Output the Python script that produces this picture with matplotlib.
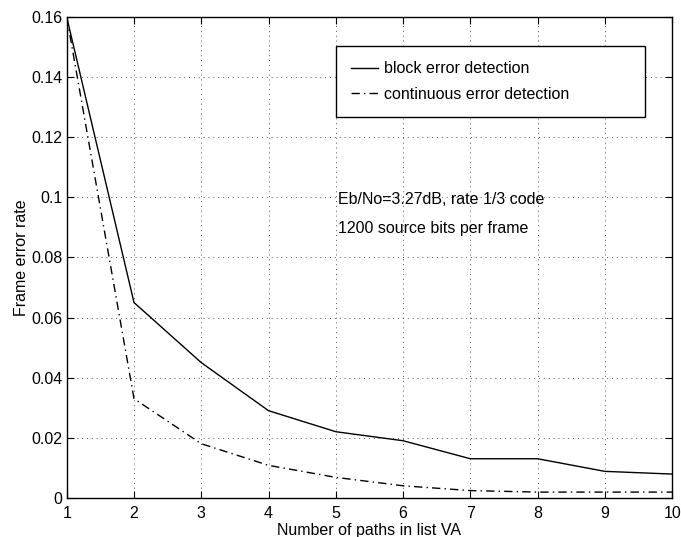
import matplotlib
matplotlib.use("Agg")
import matplotlib.pyplot as plt

paths = [1, 2, 3, 4, 5, 6, 7, 8, 9, 10]
block_fer = [0.16, 0.065, 0.045, 0.029, 0.022, 0.019, 0.013, 0.013, 0.0088, 0.0079]
cont_fer = [0.16, 0.033, 0.018, 0.0108, 0.0068, 0.004, 0.0024, 0.0019, 0.0019, 0.0019]
yticks = [0, 0.02, 0.04, 0.06, 0.08, 0.1, 0.12, 0.14, 0.16]
ytick_labels = ["0", "0.02", "0.04", "0.06", "0.08", "0.1", "0.12", "0.14", "0.16"]

plt.rcParams['font.family'] = ['Liberation Sans', 'DejaVu Sans']

fig = plt.figure(figsize=(6.81, 5.37), dpi=100)
ax = fig.add_axes([0.098, 0.073, 0.889, 0.895])

ax.plot(paths, block_fer, color='black', linestyle='-', linewidth=1.0,
        label='block error detection')
ax.plot(paths, cont_fer, color='black', linestyle='-.', linewidth=1.0,
        dashes=(6, 3, 1, 3), label='continuous error detection')

ax.set_xlim(1, 10)
ax.set_ylim(0, 0.16)
ax.set_xticks(paths)
ax.set_yticks(yticks)
ax.set_yticklabels(ytick_labels)
ax.tick_params(direction='in', top=True, right=True, labelsize=11.5, length=5)
ax.tick_params(axis='x', pad=6)
ax.tick_params(axis='y', pad=3)
ax.grid(True, linestyle=(0, (1, 4)), color='#555555', linewidth=0.7)
for s in ax.spines.values():
    s.set_linewidth(1.0)

ax.set_xlabel('Number of paths in list VA', fontsize=11.5, labelpad=1)
ax.set_ylabel('Frame error rate', fontsize=11.5, labelpad=2)

leg = ax.legend(loc='upper left', bbox_to_anchor=(0.445, 0.794, 0.51, 0.146),
                mode='expand', fontsize=11.5, frameon=True, fancybox=False,
                edgecolor='black', framealpha=1, handlelength=1.7,
                handletextpad=0.35, borderaxespad=0, labelspacing=0.65,
                borderpad=0.95)
leg.get_frame().set_linewidth(1.0)

ax.text(0.448, 0.62, 'Eb/No=3.27dB, rate 1/3 code', transform=ax.transAxes,
        fontsize=11.5, va='center', ha='left')
ax.text(0.448, 0.561, '1200 source bits per frame', transform=ax.transAxes,
        fontsize=11.5, va='center', ha='left')

fig.savefig('out.png', dpi=100)
